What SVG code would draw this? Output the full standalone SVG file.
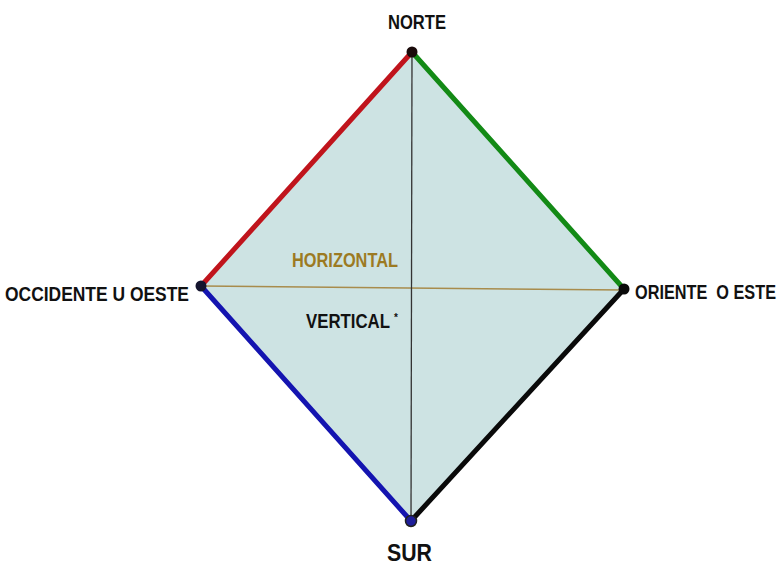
<svg xmlns="http://www.w3.org/2000/svg" width="784" height="565" viewBox="0 0 784 565">
<style>
.lbl{font-family:"Liberation Sans",Arial,sans-serif;font-weight:bold;fill:#111;}
.edge{stroke-width:5;stroke-linecap:round;fill:none;}
</style>
<rect width="784" height="565" fill="#ffffff"/>
<g id="area">
<polygon points="412,52 201,286 411,521 624,289" fill="#cde3e3" stroke="none"/>
</g>
<g id="connectors">
<line x1="201" y1="286" x2="624" y2="290" stroke="#a88c4c" stroke-width="1.5"/>
<line x1="412" y1="52" x2="411" y2="521" stroke="#333" stroke-width="1.3"/>
<line class="edge" x1="412" y1="52" x2="201" y2="286" stroke="#c0141c"/>
<line class="edge" x1="412" y1="52" x2="624" y2="289" stroke="#138a16"/>
<line class="edge" x1="201" y1="286" x2="411" y2="521" stroke="#1414b0"/>
<line class="edge" x1="624" y1="289" x2="411" y2="521" stroke="#0a0a0a"/>
</g>
<g id="norte">
<circle cx="412" cy="52" r="5.5" fill="#1a0a0a"/>
<text class="lbl" x="388" y="29" font-size="21" textLength="58" lengthAdjust="spacingAndGlyphs">NORTE</text>
</g>
<g id="oeste">
<circle cx="201" cy="286" r="5.5" fill="#14142e"/>
<text class="lbl" x="5" y="301" font-size="21" textLength="184" lengthAdjust="spacingAndGlyphs">OCCIDENTE U OESTE</text>
</g>
<g id="este">
<circle cx="624" cy="289" r="5.5" fill="#0a0a0a"/>
<text class="lbl" x="635" y="299" font-size="21" textLength="141" lengthAdjust="spacingAndGlyphs" xml:space="preserve">ORIENTE  O ESTE</text>
</g>
<g id="sur">
<circle cx="411" cy="521" r="5.5" fill="#1e1e9a" stroke="#222" stroke-width="1.5"/>
<text class="lbl" x="387" y="561" font-size="24" textLength="45" lengthAdjust="spacingAndGlyphs">SUR</text>
</g>
<g id="horizontal">
<text class="lbl" x="292" y="267" font-size="20" textLength="106" lengthAdjust="spacingAndGlyphs" style="fill:#9c7a22">HORIZONTAL</text>
</g>
<g id="vertical">
<text class="lbl" x="306" y="328" font-size="20" textLength="84" lengthAdjust="spacingAndGlyphs">VERTICAL</text>
<text class="lbl" x="394" y="321" font-size="10">*</text>
</g>
</svg>
